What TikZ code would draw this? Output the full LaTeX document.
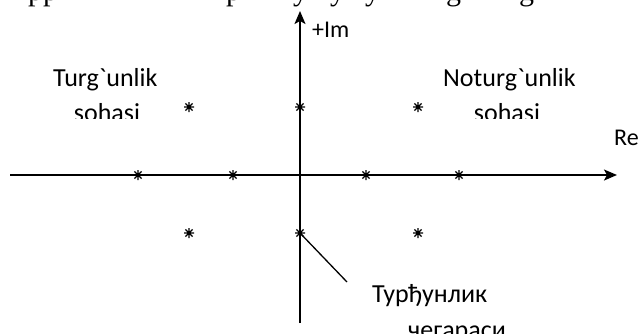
\documentclass[tikz,border=0pt]{standalone}
\usepackage{fontspec}
\setmainfont[Ligatures=TeXOff]{Carlito}
\newfontfamily\seriffont{Liberation Serif}
\usetikzlibrary{arrows.meta}
\tikzset{
  axis/.style={line width=1.8pt,-{Stealth[length=13pt,width=11pt,inset=3pt]}},
  lbl/.style={inner sep=0pt,anchor=base west,font=\fontsize{26}{30}\selectfont},
  lblc/.style={inner sep=0pt,anchor=base,font=\fontsize{26}{30}\selectfont},
  frag/.style={inner sep=0pt,anchor=base west,font=\seriffont\fontsize{30}{34}\selectfont},
  pole/.style={inner sep=0pt,minimum size=11pt,
    path picture={
      \draw[line width=1.4pt]
        ([xshift=-5pt]path picture bounding box.center) -- ([xshift=5pt]path picture bounding box.center)
        ([yshift=-5pt]path picture bounding box.center) -- ([yshift=5pt]path picture bounding box.center)
        ([shift={(-3.6pt,-3.6pt)}]path picture bounding box.center) -- ([shift={(3.6pt,3.6pt)}]path picture bounding box.center)
        ([shift={(-3.6pt,3.6pt)}]path picture bounding box.center) -- ([shift={(3.6pt,-3.6pt)}]path picture bounding box.center);
    }},
  pointer/.style={line width=1.3pt}
}
\begin{document}
\begin{tikzpicture}[x=1pt,y=-1pt]
\useasboundingbox (0,0) rectangle (641,333);
\begin{scope}
\clip (0,0) rectangle (641,333);
% clipped fragments of a line of text above
\begin{scope}
\clip (0,0) rectangle (641,20);
\node[frag] (f1) at (28,0.5) {pp};
\node[frag] (f2) at (226,0.5) {p};
\node[frag] (f3) at (293,0.5) {y};
\node[frag] (f4) at (330,0.5) {y};
\node[frag] (f5) at (365,0.5) {y};
\node[frag] (f6) at (446,0.5) {g};
\node[frag] (f7) at (519,0.5) {g};
\end{scope}
% axes
\coordinate (xl) at (10,175);
\coordinate (xr) at (617,175);
\coordinate (yb) at (300,323);
\coordinate (yt) at (300,11);
\draw[axis] (xl) -- (xr);
\draw[axis] (yb) -- (yt);
\node[inner sep=0pt,anchor=base west,font=\fontsize{24}{28}\selectfont] (im) at (312,37) {+Im};
\node[inner sep=0pt,anchor=base west,font=\fontsize{24}{28}\selectfont] (re) at (614,145) {Re};
% region labels
\node[lbl] (t1) at (53,86) {Turg`unlik};
\node[lbl] (t2) at (443,86) {Noturg`unlik};
\begin{scope}
\clip (0,0) rectangle (641,118);
\node[lblc] (s1) at (107,121) {sohasi};
\node[lblc] (s2) at (507,121) {sohasi};
\end{scope}
% poles
\node[pole] (p1) at (189,107) {};
\node[pole] (p2) at (300,107) {};
\node[pole] (p3) at (418,107) {};
\node[pole] (p4) at (138,175) {};
\node[pole] (p5) at (233,175) {};
\node[pole] (p6) at (366,175) {};
\node[pole] (p7) at (459,175) {};
\node[pole] (p8) at (189,233) {};
\node[pole] (p9) at (300,233) {};
\node[pole] (p10) at (418,233) {};
% boundary label
\coordinate (pe) at (347,282);
\draw[pointer] (p9.center) -- (pe);
\node[lbl] (b1) at (372,302) {Турђунлик};
\node[lbl] (b2) at (408,338) {чегараси};
\end{scope}
\end{tikzpicture}
\end{document}
